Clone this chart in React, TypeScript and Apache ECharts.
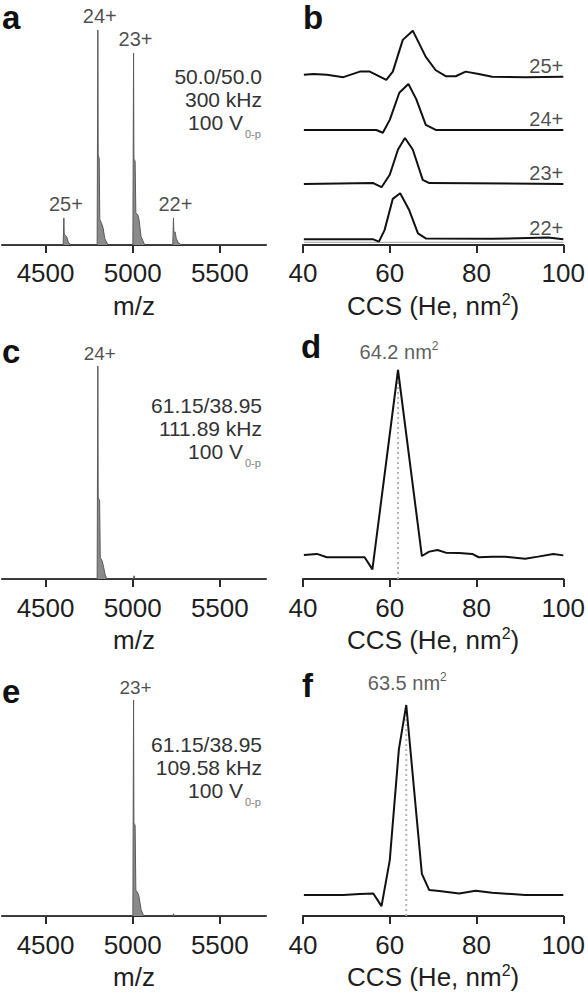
import React, { useEffect, useRef } from "react";
import * as echarts from "echarts";

const FONT = "'Liberation Sans', Arial, Helvetica, sans-serif";

// ---------- data ----------
const mzTicks = [4500, 5000, 5500];
const ccsTicks = [40, 60, 80, 100];

// mass spectra (m/z, relative intensity)
const spectrumA: [number, number][] = [
  [4250, 0], [4601, 0], [4605, 0.126], [4607, 0.05], [4614, 0.045], [4620, 0.04], [4632, 0.01], [4648, 0],
  [4796, 0], [4800, 1.0], [4802, 0.42], [4808, 0.4], [4811, 0.12], [4822, 0.1], [4830, 0.08], [4840, 0.03], [4858, 0],
  [5001, 0], [5005, 0.893], [5007, 0.4], [5014, 0.39], [5018, 0.15], [5030, 0.14], [5036, 0.12], [5048, 0.04], [5069, 0],
  [5230, 0], [5234, 0.126], [5236, 0.06], [5244, 0.06], [5250, 0.03], [5262, 0.01], [5280, 0], [5765, 0],
];
const spectrumC: [number, number][] = [
  [4250, 0], [4796, 0], [4800, 1.0], [4802, 0.38], [4810, 0.37], [4814, 0.1], [4825, 0.085], [4832, 0.06], [4842, 0.02], [4852, 0],
  [5004, 0], [5008, 0.015], [5012, 0], [5765, 0],
];
const spectrumE: [number, number][] = [
  [4250, 0], [5001, 0], [5005, 1.0], [5007, 0.43], [5014, 0.42], [5018, 0.12], [5030, 0.106], [5036, 0.09], [5048, 0.03], [5063, 0],
  [5230, 0], [5234, 0.01], [5238, 0], [5765, 0],
];
const peaksA = [
  { mz: 4800, rel: 1.0, text: "24+" },
  { mz: 5005, rel: 0.893, text: "23+" },
  { mz: 4605, rel: 0.126, text: "25+" },
  { mz: 5234, rel: 0.126, text: "22+" },
];
const peaksC = [{ mz: 4800, rel: 1.0, text: "24+" }];
const peaksE = [{ mz: 5005, rel: 1.0, text: "23+" }];

const annotA = ["50.0/50.0", "300 kHz", "100 V"];
const annotC = ["61.15/38.95", "111.89 kHz", "100 V"];
const annotE = ["61.15/38.95", "109.58 kHz", "100 V"];
const annotSub = "0-p";

// CCS distributions (CCS nm^2, normalized intensity)
const chargeStates = ["25+", "24+", "23+", "22+"];
const ccs25: [number, number][] = [
  [40.2, 0.04], [42.4, 0.06], [45.5, 0.04], [49.3, -0.01], [53.1, 0.11], [55.4, 0.11], [59.2, -0.07], [60.7, 0.11],
  [63.0, 0.8], [65.3, 1.0], [68.3, 0.43], [70.6, 0.14], [72.9, 0.01], [75.2, 0.01], [77.5, 0.11], [80.5, 0.06],
  [83.6, 0.0], [91.2, -0.01], [100, 0],
];
const ccs24: [number, number][] = [
  [40.2, 0], [56.9, 0], [58.4, -0.06], [60.0, 0.22], [62.2, 0.81], [64.3, 1.0], [66.1, 0.67], [68.3, 0.11], [70.6, 0], [100, 0],
];
const ccs23: [number, number][] = [
  [40.2, 0], [56.2, 0.02], [58.1, -0.07], [60.0, 0.2], [61.9, 0.75], [63.5, 1.0], [65.3, 0.75], [67.6, 0.09], [69.1, 0.02], [100, 0],
];
const ccs22: [number, number][] = [
  [40.2, 0], [53.1, 0], [56.2, 0], [57.5, -0.05], [58.8, 0.2], [60.7, 0.88], [62.4, 1.0], [64.5, 0.63], [66.5, 0.13],
  [68.3, 0.02], [83.6, 0.01], [96.5, 0.04], [100, 0],
];
const ccsD: [number, number][] = [
  [40.2, 0.115], [43.2, 0.12], [45.5, 0.104], [50.1, 0.104], [54.2, 0.104], [56.0, 0.046], [61.9, 1.0], [67.4, 0.11],
  [69.1, 0.131], [71.0, 0.139], [72.9, 0.126], [76.0, 0.124], [79.0, 0.12], [80.5, 0.104], [83.6, 0.107], [86.6, 0.106],
  [91.2, 0.097], [94.2, 0.107], [97.7, 0.12], [100, 0.113],
];
const ccsF: [number, number][] = [
  [40.2, 0.1], [49.3, 0.1], [53.1, 0.104], [56.2, 0.107], [58.1, 0.047], [60.0, 0.265], [62.1, 0.79], [63.8, 1.0],
  [67.4, 0.2], [69.1, 0.123], [71.4, 0.118], [76.0, 0.107], [79.8, 0.12], [83.6, 0.11], [91.2, 0.1], [100, 0.1],
];
const peakD = { ccs: 61.9, rel: 1.0, value: "64.2" };
const peakF = { ccs: 63.8, rel: 1.0, value: "63.5" };

// ---------- chart ----------
export default function App() {
  const ref = useRef<HTMLDivElement>(null);

  useEffect(() => {
    if (!ref.current) return;
    const chart = echarts.init(ref.current, null, { renderer: "svg" });

    const axisCol = "#2a2a2a";
    const textCol = "#1e1e1e";

    const grids = [
      { left: 2, top: 30, width: 264, height: 215 },
      { left: 303, top: 29, width: 263, height: 216 },
      { left: 2, top: 366, width: 264, height: 213 },
      { left: 303, top: 370, width: 263, height: 209 },
      { left: 2, top: 700, width: 264, height: 216 },
      { left: 303, top: 705, width: 263, height: 211 },
    ];

    const mzAxis = (gi: number, margin: number) => ({
      type: "value",
      gridIndex: gi,
      min: 4250,
      max: 5765,
      axisLine: { lineStyle: { color: axisCol, width: 2 } },
      axisTick: { customValues: mzTicks, length: 8, lineStyle: { color: axisCol, width: 2 } },
      axisLabel: {
        customValues: mzTicks, fontSize: 26, color: textCol, margin, fontFamily: FONT,
        formatter: (v: number) => String(v),
      },
      splitLine: { show: false },
      name: "m/z",
      nameLocation: "middle",
      nameGap: 48,
      nameTextStyle: { fontSize: 26, color: textCol, fontFamily: FONT },
    });
    const ccsAxis = (gi: number, margin: number) => ({
      type: "value",
      gridIndex: gi,
      min: 40,
      max: 100,
      interval: 20,
      axisLine: { lineStyle: { color: axisCol, width: 2 } },
      axisTick: { length: 8, lineStyle: { color: axisCol, width: 2 } },
      axisLabel: {
        fontSize: 26, color: textCol, margin, fontFamily: FONT, customValues: ccsTicks,
        formatter: (v: number) => String(v),
      },
      splitLine: { show: false },
      name: "{a|CCS (He, nm}{s|2}{a|)}",
      nameLocation: "middle",
      nameGap: 46,
      nameTextStyle: {
        fontFamily: FONT,
        rich: {
          a: { fontSize: 26, color: textCol, fontFamily: FONT, lineHeight: 30 },
          s: { fontSize: 16, color: textCol, fontFamily: FONT, verticalAlign: "top", lineHeight: 30 },
        },
      },
    });
    const yAx = (gi: number, max: number) => ({
      type: "value", gridIndex: gi, min: 0, max, show: false,
    });

    const spectrumSeries = (gi: number, data: [number, number][]) => ({
      type: "line",
      xAxisIndex: gi,
      yAxisIndex: gi,
      data,
      showSymbol: false,
      symbol: "none",
      lineStyle: { color: "#5a5a5a", width: 1 },
      areaStyle: { color: "#8a8a8a", opacity: 1 },
      z: 3,
    });

    const labelSeries = (gi: number, items: any[]) => ({
      type: "scatter",
      xAxisIndex: gi,
      yAxisIndex: gi,
      symbolSize: 1,
      itemStyle: { color: "rgba(0,0,0,0)" },
      z: 5,
      data: items,
      label: {
        show: true,
        position: "inside",
        formatter: (p: any) => p.value[2],
        fontFamily: FONT,
        color: textCol,
      },
    });

    const peakItems = (peaks: { mz: number; rel: number; text: string }[], size: number, dy: number) =>
      peaks.map((p) => ({
        value: [p.mz, p.rel, p.text],
        label: { fontSize: size, offset: [2, -dy], verticalAlign: "middle", align: "center", color: textCol },
      }));

    // stacked CCS traces (panel b)
    const stackOffsets = [3.117, 2.13, 1.13, 0.105];
    const stackScale = 0.852;
    const stackTraces = [ccs25, ccs24, ccs23, ccs22];

    const series: any[] = [];
    series.push(spectrumSeries(0, spectrumA));
    series.push(spectrumSeries(2, spectrumC));
    series.push(spectrumSeries(4, spectrumE));
    series.push(labelSeries(0, peakItems(peaksA, 20, 14)));
    series.push(labelSeries(2, peakItems(peaksC, 19, 13)));
    series.push(labelSeries(4, peakItems(peaksE, 19, 13)));

    // faint gray baseline under the 22+ trace
    series.push({
      type: "line", xAxisIndex: 1, yAxisIndex: 1, symbol: "none",
      data: [[40.2, 0.05], [100, 0.05]],
      lineStyle: { color: "#a0a0a0", width: 1 }, z: 1,
    });
    stackTraces.forEach((tr, i) => {
      series.push({
        type: "line",
        xAxisIndex: 1,
        yAxisIndex: 1,
        symbol: "none",
        data: tr.map(([x, v]) => [x, stackOffsets[i] + stackScale * v]),
        lineStyle: { color: "#111", width: 2 },
        z: 3,
      });
    });
    series.push(labelSeries(1, chargeStates.map((c, i) => ({
      value: [100, stackOffsets[i], c],
      label: { fontSize: 20, offset: [0, -11], align: "right", verticalAlign: "middle", color: textCol },
    }))));

    const ccsPanel = (gi: number, data: [number, number][], pk: { ccs: number; rel: number; value: string }, dy: number) => {
      series.push({
        type: "line", xAxisIndex: gi, yAxisIndex: gi, symbol: "none",
        data: [[pk.ccs, 0], [pk.ccs, pk.rel * 0.95]],
        lineStyle: { color: "#b5b5b5", width: 2, type: [2, 3] },
        z: 1,
      });
      series.push({
        type: "line", xAxisIndex: gi, yAxisIndex: gi, symbol: "none",
        data,
        lineStyle: { color: "#111", width: 2 },
        z: 3,
      });
      series.push({
        type: "scatter", xAxisIndex: gi, yAxisIndex: gi, symbolSize: 1,
        itemStyle: { color: "rgba(0,0,0,0)" }, z: 5,
        data: [{ value: [pk.ccs, pk.rel, pk.value] }],
        label: {
          show: true,
          position: "inside",
          offset: [1, -dy],
          formatter: (p: any) => `{a|${p.value[2]} nm}{s|2}`,
          rich: {
            a: { fontSize: 20, color: "#333", fontFamily: FONT, lineHeight: 24 },
            s: { fontSize: 12, color: "#333", fontFamily: FONT, verticalAlign: "top", lineHeight: 24 },
          },
        },
      });
    };
    ccsPanel(3, ccsD, peakD, 18);
    ccsPanel(5, ccsF, peakF, 22);

    // graphic: panel letters and acquisition annotations
    const letters = [
      { t: "a", x: 2, y: 17 },
      { t: "b", x: 303, y: 17 },
      { t: "c", x: 2, y: 351 },
      { t: "d", x: 301, y: 346 },
      { t: "e", x: 2, y: 691 },
      { t: "f", x: 302, y: 685 },
    ];
    const graphic: any[] = letters.map((l) => ({
      type: "text",
      x: l.x,
      y: l.y,
      style: { text: l.t, font: `bold 33px ${FONT}`, fill: "#111", verticalAlign: "middle", align: "left" },
    }));
    const annot = (lines: string[], y0: number) => {
      lines.forEach((s, i) => {
        const isLast = i === lines.length - 1;
        graphic.push({
          type: "text",
          x: isLast ? 243 : 262,
          y: y0 + i * 23,
          style: { text: s, font: `21px ${FONT}`, fill: "#333", align: "right", verticalAlign: "middle" },
        });
      });
      graphic.push({
        type: "text",
        x: 245,
        y: y0 + 2 * 23 + 12,
        style: { text: annotSub, font: `11px ${FONT}`, fill: "#808080", align: "left", verticalAlign: "middle" },
      });
    };
    annot(annotA, 76);
    annot(annotC, 405);
    annot(annotE, 744);

    chart.setOption({
      animation: false,
      backgroundColor: "#fff",
      textStyle: { fontFamily: FONT },
      grid: grids,
      xAxis: [mzAxis(0, 15), ccsAxis(1, 15), mzAxis(2, 16), ccsAxis(3, 16), mzAxis(4, 16), ccsAxis(5, 16)],
      yAxis: [yAx(0, 1), yAx(1, 4), yAx(2, 1), yAx(3, 1), yAx(4, 1), yAx(5, 1)],
      series,
      graphic,
    });

    return () => chart.dispose();
  }, []);

  return (
    <div
      ref={ref}
      style={{ position: "absolute", left: 0, top: 0, width: 588, height: 995, background: "#fff" }}
    />
  );
}
